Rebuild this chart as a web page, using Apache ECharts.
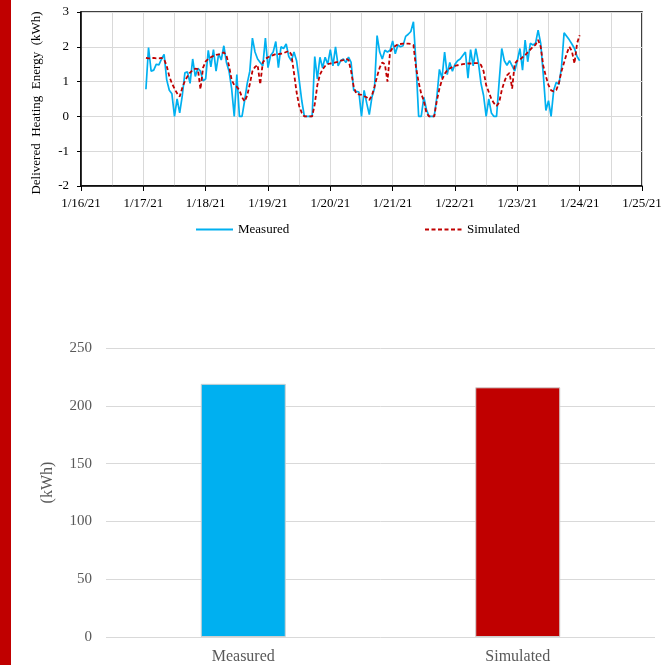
<!DOCTYPE html>
<html>
<head>
<meta charset="utf-8">
<script src="https://cdn.jsdelivr.net/npm/echarts@6/dist/echarts.min.js"></script>
<style>
  html, body { margin: 0; padding: 0; background: #fff; }
  #chart { width: 667px; height: 665px; }
</style>
</head>
<body>
<div id="chart"></div>
<script>
// Hourly delivered heating energy, 1/17/21 01:00 through 1/24/21 00:00 (kWh)
const firstHour = Date.UTC(2021, 0, 17, 1);
const HOUR = 3600 * 1000;
const DAY = 24 * HOUR;

const measured = [
  // 1/17
  0.78, 1.98, 1.30, 1.33, 1.50, 1.48, 1.65, 1.78, 1.05, 0.75, 0.65, 0.00,
  0.50, 0.10, 0.60, 1.25, 1.28, 0.95, 1.65, 1.15, 1.38, 1.30, 1.02, 1.08,
  // 1/18
  1.90, 1.42, 1.92, 1.30, 1.80, 1.62, 2.03, 1.55, 1.30, 0.80, 0.00, 1.20,
  0.00, 0.00, 0.45, 0.95, 1.30, 2.25, 1.85, 1.65, 1.55, 1.45, 2.25, 1.40,
  // 1/19
  1.75, 1.85, 2.15, 1.40, 2.00, 1.95, 2.08, 1.72, 1.60, 1.85, 1.60, 1.05,
  0.45, 0.00, 0.00, 0.00, 0.00, 1.72, 1.08, 1.70, 1.40, 1.70, 1.50, 1.92,
  // 1/20
  1.45, 2.00, 1.45, 1.60, 1.65, 1.55, 1.70, 1.55, 0.75, 0.72, 0.70, 0.00,
  0.75, 0.38, 0.05, 0.55, 0.80, 2.32, 1.85, 1.65, 1.90, 1.85, 1.90, 2.17,
  // 1/21
  1.80, 2.05, 2.00, 2.03, 2.30, 2.36, 2.44, 2.72, 1.50, 0.00, 0.00, 0.55,
  0.20, 0.00, 0.00, 0.00, 0.55, 1.35, 1.10, 1.85, 1.20, 1.55, 1.30, 1.50,
  // 1/22
  1.60, 1.65, 1.75, 1.85, 1.10, 1.92, 1.45, 1.95, 1.55, 0.95, 0.60, 0.00,
  0.50, 0.10, 0.00, 0.00, 1.00, 1.95, 1.60, 1.47, 1.60, 1.45, 1.30, 1.60,
  // 1/23
  1.95, 1.33, 2.19, 1.57, 2.10, 2.05, 2.10, 2.48, 2.10, 1.20, 0.17, 0.45,
  0.00, 0.75, 0.98, 0.92, 1.40, 2.40, 2.30, 2.20, 2.08, 1.95, 1.72, 1.60
];

const simulated = [
  // 1/17
  1.68, 1.67, 1.67, 1.68, 1.67, 1.67, 1.68, 1.64, 1.45, 1.15, 0.95, 0.80,
  0.66, 0.57, 0.82, 1.02, 1.15, 1.26, 1.33, 1.37, 1.36, 0.78, 1.40, 1.58,
  // 1/18
  1.65, 1.70, 1.74, 1.77, 1.78, 1.80, 1.84, 1.75, 1.45, 1.05, 0.90, 0.85,
  0.75, 0.55, 0.43, 0.60, 0.93, 1.30, 1.42, 1.48, 0.92, 1.55, 1.65, 1.70,
  // 1/19
  1.73, 1.76, 1.79, 1.79, 1.80, 1.82, 1.85, 1.88, 1.78, 1.25, 0.70, 0.30,
  0.10, 0.00, 0.00, 0.00, 0.00, 0.35, 0.90, 1.20, 1.35, 1.45, 1.50, 1.52,
  // 1/20
  1.53, 1.55, 1.57, 1.60, 1.62, 1.66, 1.62, 1.30, 0.85, 0.65, 0.63, 0.62,
  0.58, 0.55, 0.47, 0.60, 0.85, 1.15, 1.40, 1.55, 1.50, 1.00, 1.85, 1.97,
  // 1/21
  2.02, 2.07, 2.08, 2.09, 2.09, 2.09, 2.08, 2.05, 1.40, 0.98, 0.65, 0.45,
  0.10, 0.00, 0.00, 0.00, 0.45, 0.80, 1.05, 1.22, 1.33, 1.38, 1.42, 1.45,
  // 1/22
  1.47, 1.48, 1.50, 1.51, 1.52, 1.52, 1.53, 1.53, 1.53, 1.48, 1.30, 0.90,
  0.70, 0.50, 0.38, 0.30, 0.40, 0.75, 1.00, 1.18, 1.25, 0.80, 1.52, 1.60,
  // 1/23
  1.63, 1.70, 1.76, 1.84, 1.92, 2.00, 2.06, 2.20, 2.00, 1.45, 1.15, 0.90,
  0.75, 0.72, 0.76, 0.95, 1.30, 1.55, 1.80, 2.00, 1.88, 1.52, 2.10, 2.33
];

// Weekly totals (kWh)
const totalCategories = ['Measured', 'Simulated'];
const totalValues = [219, 216];
const totalColors = ['#00B0F0', '#C00000'];

const yTicksTop = { min: -2, max: 3, step: 1 };
const axisStart = Date.UTC(2021, 0, 16);
const axisEnd = Date.UTC(2021, 0, 25);

const pair = (vals) => vals.map((v, i) => [firstHour + i * HOUR, v]);

const serif = 'Liberation Serif, Times New Roman, serif';

function fmtDate(ms) {
  const d = new Date(ms);
  return (d.getUTCMonth() + 1) + '/' + d.getUTCDate() + '/' + String(d.getUTCFullYear()).slice(2);
}

const legendCommon = {
  itemWidth: 37, itemHeight: 10, itemGap: 4,
  itemStyle: { opacity: 0 },
  textStyle: { fontFamily: serif, fontSize: 13, color: '#000' }
};

const chart = echarts.init(document.getElementById('chart'), null, { renderer: 'canvas' });

chart.setOption({
  animation: false,
  backgroundColor: '#ffffff',
  graphic: [{
    type: 'rect', left: 0, top: 0, z: 0,
    shape: { width: 11, height: 665 },
    style: { fill: '#C00000' }
  }],
  grid: [
    { left: 81, right: 25, top: 12, bottom: 479, show: true, borderColor: '#000', borderWidth: 1.5, backgroundColor: 'transparent' },
    { left: 106, right: 12, top: 348, bottom: 28 }
  ],
  legend: [
    Object.assign({ data: ['Measured'], left: 190, top: 218 }, legendCommon),
    Object.assign({ data: ['Simulated'], left: 419, top: 218 }, legendCommon)
  ],
  xAxis: [
    {
      type: 'value', gridIndex: 0, min: axisStart, max: axisEnd, interval: DAY,
      axisLine: { show: true, onZero: false, lineStyle: { color: '#000', width: 1.5 } },
      axisTick: { show: true, length: 5, lineStyle: { color: '#000' } },
      axisLabel: { formatter: fmtDate, fontFamily: serif, fontSize: 13, color: '#000', margin: 11 },
      splitLine: { show: true, lineStyle: { color: '#d9d9d9', width: 1 } },
      minorTick: { show: false, splitNumber: 2 },
      minorSplitLine: { show: true, lineStyle: { color: '#d9d9d9', width: 1 } }
    },
    {
      type: 'category', gridIndex: 1, data: totalCategories,
      axisLine: { show: false }, axisTick: { show: false },
      axisLabel: { fontFamily: serif, fontSize: 16, color: '#595959', margin: 12 }
    }
  ],
  yAxis: [
    {
      type: 'value', gridIndex: 0, min: yTicksTop.min, max: yTicksTop.max, interval: yTicksTop.step,
      name: 'Delivered  Heating  Energy  (kWh)', nameLocation: 'middle', nameGap: 38,
      nameTextStyle: { fontFamily: serif, fontSize: 13, color: '#000', padding: [0, 0, 0, -8] },
      axisLine: { show: true, onZero: false, lineStyle: { color: '#000', width: 1.5 } },
      axisTick: { show: true, length: 4, lineStyle: { color: '#000' } },
      axisLabel: { fontFamily: serif, fontSize: 13, color: '#000', margin: 12 },
      splitLine: { show: true, lineStyle: { color: '#d9d9d9', width: 1 } }
    },
    {
      type: 'value', gridIndex: 1, min: 0, max: 250, interval: 50,
      name: '(kWh)', nameLocation: 'middle', nameGap: 50,
      nameTextStyle: { fontFamily: serif, fontSize: 16, color: '#595959', padding: [0, 0, 0, 20] },
      axisLine: { show: false }, axisTick: { show: false },
      axisLabel: { fontFamily: serif, fontSize: 15, color: '#595959', margin: 14 },
      splitLine: { show: true, lineStyle: { color: '#d9d9d9', width: 1 } }
    }
  ],
  series: [
    {
      name: 'Measured', type: 'line', xAxisIndex: 0, yAxisIndex: 0,
      data: pair(measured), symbol: 'none', smooth: false,
      lineStyle: { color: '#00B0F0', width: 1.7 }, itemStyle: { color: '#00B0F0' }, z: 3
    },
    {
      name: 'Simulated', type: 'line', xAxisIndex: 0, yAxisIndex: 0,
      data: pair(simulated), symbol: 'none', smooth: false,
      lineStyle: { color: '#C00000', width: 1.8, type: [4, 2.5] }, itemStyle: { color: '#C00000' }, z: 4
    },
    {
      name: 'Total', type: 'bar', xAxisIndex: 1, yAxisIndex: 1, barWidth: 85,
      data: totalValues.map((v, i) => ({
        value: v,
        itemStyle: { color: totalColors[i], borderColor: '#d0d0d0', borderWidth: 1 }
      }))
    }
  ]
});
</script>
</body>
</html>
